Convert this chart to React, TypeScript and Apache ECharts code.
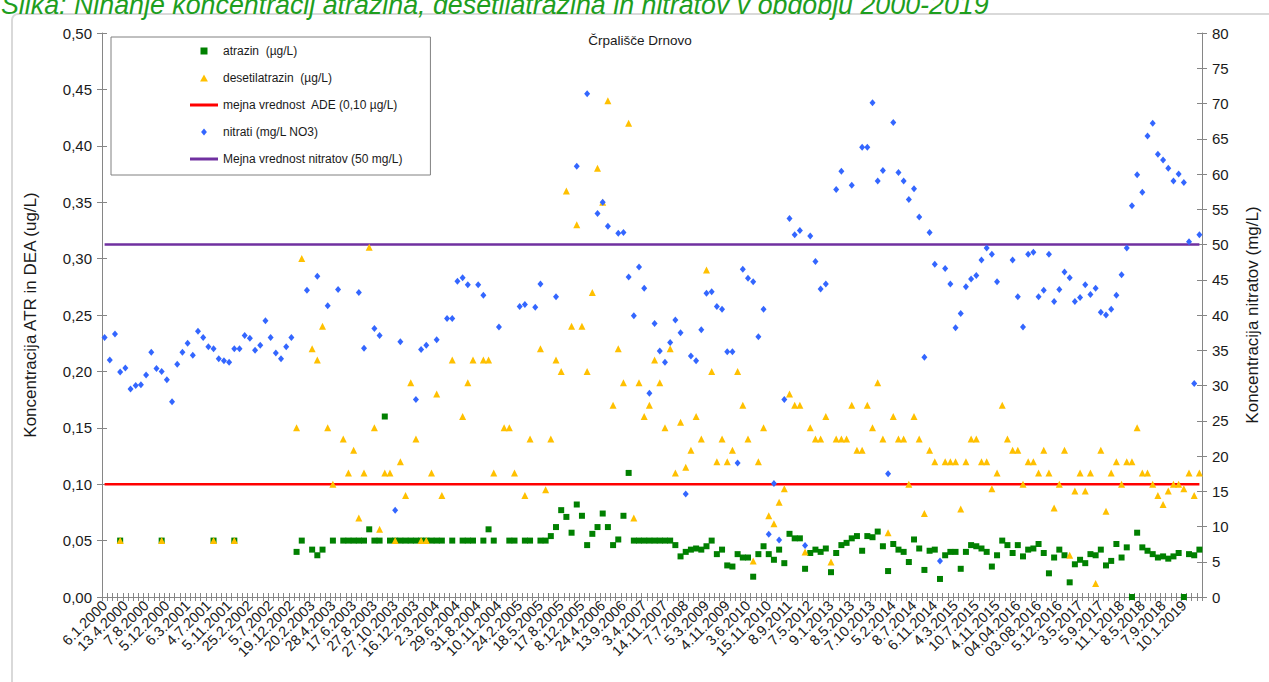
import React, { useEffect, useRef } from 'react';
import * as echarts from 'echarts';

const FONT = '"Liberation Sans", Arial, sans-serif';

// Tick labels shown on the category axis (every 4th sample)
const xLabels = [
  '6.1.2000', '13.4.2000', '7.8.2000', '5.12.2000', '6.3.2001', '4.7.2001', '5.11.2001', '25.2.2002',
  '5.7.2002', '19.12.2002', '20.2.2003', '28.4.2003', '17.6.2003', '27.8.2003', '27.10.2003', '16.12.2003',
  '2.3.2004', '29.6.2004', '31.8.2004', '10.11.2004', '24.2.2005', '18.5.2005', '17.8.2005', '8.12.2005',
  '24.4.2006', '13.9.2006', '3.4.2007', '14.11.2007', '7.7.2008', '5.3.2009', '4.11.2009', '3.6.2010',
  '15.11.2010', '8.9.2011', '7.5.2012', '9.1.2013', '8.5.2013', '7.10.2013', '5.2.2014', '8.7.2014',
  '6.11.2014', '4.3.2015', '10.7.2015', '4.11.2015', '04.04.2016', '03.08.2016', '5.12.2016', '3.5.2017',
  '5.9.2017', '11.1.2018', '8.5.2018', '7.9.2018', '10.1.2019',
];
const LABEL_STEP = 4;
const SAMPLE_COUNT = 212;

// atrazin (µg/L)
const atrazin: (number | null)[] = [
  null, null, null, 0.05, null, null, null, null, null, null,
  null, 0.05, null, null, null, null, null, null, null, null,
  null, 0.05, null, null, null, 0.05, null, null, null, null,
  null, null, null, null, null, null, null, 0.04, 0.05, null,
  0.042, 0.037, 0.042, null, 0.05, null, 0.05, 0.05, 0.05, 0.05,
  0.05, 0.06, 0.05, 0.05, 0.16, 0.05, 0.05, 0.05, 0.05, 0.05,
  0.05, 0.05, 0.05, 0.05, 0.05, 0.05, null, 0.05, null, 0.05,
  0.05, 0.05, null, 0.05, 0.06, 0.05, null, null, 0.05, 0.05,
  null, 0.05, 0.05, null, 0.05, 0.05, 0.054, 0.062, 0.077, 0.071,
  0.057, 0.082, 0.072, 0.046, 0.056, 0.062, 0.074, 0.062, 0.046, 0.051,
  0.072, 0.11, 0.05, 0.05, 0.05, 0.05, 0.05, 0.05, 0.05, 0.05,
  0.046, 0.036, 0.04, 0.042, 0.043, 0.042, 0.045, 0.05, 0.038, 0.042,
  0.028, 0.027, 0.038, 0.035, 0.035, 0.018, 0.038, 0.045, 0.038, 0.033,
  0.042, 0.03, 0.056, 0.052, 0.052, 0.025, 0.039, 0.042, 0.04, 0.043,
  0.022, 0.039, 0.046, 0.048, 0.052, 0.054, 0.041, 0.054, 0.053, 0.058,
  0.045, 0.023, 0.047, 0.042, 0.04, 0.031, 0.051, 0.043, 0.024, 0.041,
  0.042, 0.016, 0.037, 0.04, 0.04, 0.025, 0.04, 0.046, 0.045, 0.043,
  0.04, 0.027, 0.037, 0.05, 0.046, 0.039, 0.046, 0.036, 0.042, 0.043,
  0.047, 0.039, 0.021, 0.035, 0.042, 0.037, 0.013, 0.029, 0.033, 0.03,
  0.038, 0.037, 0.042, 0.028, 0.032, 0.047, 0.035, 0.044, 0, 0.057,
  0.044, 0.041, 0.038, 0.035, 0.036, 0.034, 0.036, 0.039, 0, 0.038,
  0.037, 0.042,
];

// desetilatrazin (µg/L)
const desetilatrazin: (number | null)[] = [
  null, null, null, 0.05, null, null, null, null, null, null,
  null, 0.05, null, null, null, null, null, null, null, null,
  null, 0.05, null, null, null, 0.05, null, null, null, null,
  null, null, null, null, null, null, null, 0.15, 0.3, null,
  0.22, 0.21, 0.24, 0.15, 0.1, null, 0.14, 0.11, 0.13, 0.07,
  0.11, 0.31, 0.15, 0.06, 0.11, 0.11, 0.05, 0.12, 0.09, 0.19,
  0.14, 0.05, 0.05, 0.11, 0.18, 0.09, null, 0.21, null, 0.16,
  0.19, 0.21, null, 0.21, 0.21, 0.11, null, 0.15, 0.15, 0.11,
  null, 0.09, 0.14, null, 0.22, 0.095, 0.14, 0.21, 0.2, 0.36,
  0.24, 0.33, 0.24, 0.2, 0.27, 0.38, 0.35, 0.44, 0.17, 0.22,
  0.19, 0.42, 0.07, 0.19, 0.16, 0.17, 0.21, 0.19, 0.15, 0.22,
  0.11, 0.155, 0.115, 0.13, 0.16, 0.14, 0.29, 0.2, 0.12, 0.14,
  0.12, 0.13, 0.2, 0.17, 0.14, 0.032, 0.12, 0.15, 0.072, 0.065,
  0.084, 0.096, 0.18, 0.17, 0.17, 0.04, 0.15, 0.14, 0.14, 0.16,
  0.031, 0.14, 0.14, 0.14, 0.17, 0.13, 0.13, 0.17, 0.15, 0.19,
  0.14, 0.057, 0.16, 0.14, 0.14, 0.1, 0.16, 0.14, 0.074, 0.13,
  0.12, null, 0.12, 0.12, 0.12, 0.078, 0.12, 0.14, 0.14, 0.12,
  0.12, 0.096, 0.11, 0.17, 0.14, 0.13, 0.13, 0.1, 0.12, 0.12,
  0.11, 0.13, 0.11, 0.079, 0.1, 0.13, 0.037, 0.094, 0.11, 0.094,
  0.11, 0.012, 0.13, 0.076, 0.11, 0.12, 0.1, 0.12, 0.12, 0.15,
  0.11, 0.11, 0.1, 0.09, 0.082, 0.094, 0.1, 0.1, 0.096, 0.11,
  0.09, 0.11,
];

// nitrati (mg/L NO3)
const nitrati: (number | null)[] = [
  36.8, 33.6, 37.3, 31.9, 32.5, 29.5, 30.0, 30.1, 31.5, 34.7,
  32.4, 32.0, 30.8, 27.7, 33.0, 34.7, 36.0, 34.3, 37.7, 36.8,
  35.5, 35.2, 33.8, 33.5, 33.3, 35.2, 35.2, 37.1, 36.7, 35.0,
  35.7, 39.2, 36.8, 34.6, 33.8, 35.5, 36.8, null, null, 43.5,
  null, 45.5, null, 41.3, null, 43.6, null, null, null, 43.2,
  35.3, null, 38.1, 37.1, null, null, 12.3, 36.2, null, null,
  28.0, 35.1, 35.7, null, 36.5, null, 39.5, 39.5, 44.8, 45.3,
  44.3, null, 44.3, 42.8, null, null, 38.3, null, null, null,
  41.2, 41.5, null, 41.1, 44.4, null, null, 42.6, null, null,
  null, 61.1, null, 71.4, null, 54.4, 56.0, 52.6, null, 51.6,
  51.7, 45.4, 39.9, 46.8, 43.8, 28.9, 38.8, 34.9, 33.3, 36.1,
  39.3, 37.5, 14.6, 34.2, 33.5, 37.9, 43.1, 43.3, 41.2, 40.8,
  34.8, 34.8, 19.0, 46.5, 45.2, 44.7, 36.9, 40.8, 8.9, 16.1,
  8.1, 28.0, 53.7, 51.4, 52.0, 7.3, 51.2, 47.6, 43.7, 44.4,
  null, 57.8, 60.4, null, 58.4, null, 63.8, 63.8, 70.1, 59.0,
  60.5, 17.5, 67.3, 60.2, 59.0, 56.4, 57.9, 53.9, 34.0, 51.7,
  47.2, 5.1, 46.6, 44.4, 38.2, 40.2, 44.0, 45.1, 45.6, 47.8,
  49.5, 48.6, 44.7, null, null, 47.8, 42.6, 38.3, 48.6, 48.9,
  42.6, 43.5, 48.6, 41.9, 43.6, 46.1, 45.3, 41.9, 42.5, 44.3,
  42.9, 43.8, 40.4, 40.0, 40.8, 42.8, 45.7, 49.5, 55.5, 59.9,
  57.4, 65.4, 67.2, 62.8, 62.0, 60.8, 59.0, 60.0, 58.8, 50.4,
  30.3, 51.4,
];

const ADE_LIMIT = 0.1;
const NITRATE_LIMIT = 50;

const seriesNames = [
  'atrazin  (µg/L)',
  'desetilatrazin  (µg/L)',
  'mejna vrednost  ADE (0,10 µg/L)',
  'nitrati (mg/L NO3)',
  'Mejna vrednost nitratov (50 mg/L)',
];

const legendIcons = [
  'path://M0,0H10V10H0Z',
  'path://M5,0L10,9L0,9Z',
  'path://M0,0H28V3H0Z',
  'path://M5,0L10,6L5,12L0,6Z',
  'path://M0,0H28V3H0Z',
];

const categories = Array.from({ length: SAMPLE_COUNT }, (_, i) => String(i));

const AXIS_COLOR = '#868686';
const TEXT_COLOR = '#1a1a1a';
const AXIS_FONT = 15;
const X_FONT = 14.5;
const TITLE_FONT = 17;

function buildOption(): any {
  const grid = { left: 102, right: 63, top: 33, bottom: 85 };
  const baseX = {
    type: 'category',
    data: categories,
    boundaryGap: true,
    position: 'bottom',
    splitLine: { show: false },
  };
  const leftY = { type: 'value', min: 0, max: 0.5, interval: 0.05, position: 'left', splitLine: { show: false } };
  const rightY = { type: 'value', min: 0, max: 80, interval: 5, position: 'right', splitLine: { show: false } };

  return {
    animation: false,
    backgroundColor: '#ffffff',
    textStyle: { fontFamily: FONT },
    grid,
    graphic: [
      {
        type: 'rect',
        z: -10,
        shape: { x: 12, y: 14, width: 1275, height: 690, r: 6 },
        style: { fill: 'none', stroke: '#d9d9d9', lineWidth: 2 },
      },
      {
        type: 'text',
        x: 1,
        y: -9,
        style: {
          text: 'Slika: Nihanje koncentracij atrazina, desetilatrazina in nitratov v obdobju 2000-2019',
          fontFamily: FONT,
          fontSize: 26.8,
          fontStyle: 'italic',
          fill: '#1e9e1e',
          verticalAlign: 'top',
        },
      },
      {
        type: 'text',
        x: 640,
        y: 40,
        style: {
          text: 'Črpališče Drnovo',
          fontFamily: FONT,
          fontSize: 13.5,
          fill: TEXT_COLOR,
          align: 'center',
          verticalAlign: 'middle',
        },
      },
    ],
    legend: {
      orient: 'vertical',
      left: 111,
      top: 37,
      padding: [7, 28, 9, 79],
      itemWidth: 28,
      itemHeight: 7,
      itemGap: 13,
      backgroundColor: '#ffffff',
      borderColor: '#808080',
      borderWidth: 1,
      textStyle: { fontFamily: FONT, fontSize: 12, color: TEXT_COLOR, lineHeight: 14 },
      data: seriesNames.map((name, i) => ({ name, icon: legendIcons[i] })),
      selectedMode: false,
    },
    xAxis: [
      {
        ...baseX,
        axisLine: { show: true, lineStyle: { color: AXIS_COLOR, width: 1 } },
        axisTick: { show: true, interval: 0, length: 4, lineStyle: { color: AXIS_COLOR } },
        axisLabel: {
          interval: 0,
          rotate: 45,
          margin: 6,
          fontSize: X_FONT,
          fontFamily: FONT,
          color: TEXT_COLOR,
          hideOverlap: false,
          formatter: (_v: string, idx: number) =>
            idx % LABEL_STEP === 0 && xLabels[idx / LABEL_STEP] ? xLabels[idx / LABEL_STEP] : '',
        },
      },
      {
        ...baseX,
        axisLine: { show: false },
        axisTick: { show: true, inside: true, interval: 0, length: 4, lineStyle: { color: AXIS_COLOR } },
        axisLabel: { show: false },
      },
    ],
    yAxis: [
      {
        ...leftY,
        name: 'Koncentracija ATR in DEA (ug/L)',
        nameLocation: 'middle',
        nameRotate: 90,
        nameGap: 63,
        nameTextStyle: { fontFamily: FONT, fontSize: TITLE_FONT, color: TEXT_COLOR },
        axisLine: { show: true, lineStyle: { color: AXIS_COLOR, width: 1 } },
        axisTick: { show: true, length: 5, lineStyle: { color: AXIS_COLOR } },
        axisLabel: {
          margin: 10,
          fontSize: AXIS_FONT,
          fontFamily: FONT,
          color: TEXT_COLOR,
          formatter: (v: number) => v.toFixed(2).replace('.', ','),
        },
      },
      {
        ...rightY,
        name: 'Koncentracija nitratov (mg/L)',
        nameLocation: 'middle',
        nameRotate: 90,
        nameGap: 42,
        nameTextStyle: { fontFamily: FONT, fontSize: TITLE_FONT, color: TEXT_COLOR },
        axisLine: { show: true, lineStyle: { color: AXIS_COLOR, width: 1 } },
        axisTick: { show: true, length: 5, lineStyle: { color: AXIS_COLOR } },
        axisLabel: { margin: 10, fontSize: AXIS_FONT, fontFamily: FONT, color: TEXT_COLOR },
      },
      {
        ...leftY,
        axisLine: { show: false },
        axisTick: { show: true, inside: true, length: 5, lineStyle: { color: AXIS_COLOR } },
        axisLabel: { show: false },
      },
      {
        ...rightY,
        axisLine: { show: false },
        axisTick: { show: true, inside: true, length: 5, lineStyle: { color: AXIS_COLOR } },
        axisLabel: { show: false },
      },
    ],
    series: [
      {
        name: seriesNames[2],
        type: 'line',
        xAxisIndex: 0,
        yAxisIndex: 0,
        data: categories.map(() => ADE_LIMIT),
        symbol: 'none',
        lineStyle: { color: '#ff0000', width: 2.5 },
        itemStyle: { color: '#ff0000' },
        z: 1,
      },
      {
        name: seriesNames[4],
        type: 'line',
        xAxisIndex: 0,
        yAxisIndex: 1,
        data: categories.map(() => NITRATE_LIMIT),
        symbol: 'none',
        lineStyle: { color: '#7030a0', width: 2.5 },
        itemStyle: { color: '#7030a0' },
        z: 1,
      },
      {
        name: seriesNames[0],
        type: 'scatter',
        xAxisIndex: 0,
        yAxisIndex: 0,
        data: atrazin,
        symbol: 'rect',
        symbolSize: 6,
        itemStyle: { color: '#008000', opacity: 1 },
        z: 2,
      },
      {
        name: seriesNames[1],
        type: 'scatter',
        xAxisIndex: 0,
        yAxisIndex: 0,
        data: desetilatrazin,
        symbol: 'triangle',
        symbolSize: 7,
        itemStyle: { color: '#ffc000', opacity: 1 },
        z: 3,
      },
      {
        name: seriesNames[3],
        type: 'scatter',
        xAxisIndex: 0,
        yAxisIndex: 1,
        data: nitrati,
        symbol: 'diamond',
        symbolSize: [6, 7],
        itemStyle: { color: '#3366ff', opacity: 1 },
        z: 4,
      },
    ],
  };
}

export default function App() {
  const ref = useRef<HTMLDivElement>(null);
  useEffect(() => {
    if (!ref.current) return;
    const chart = echarts.init(ref.current, null, { renderer: 'svg' });
    chart.setOption(buildOption());
    return () => {
      chart.dispose();
    };
  }, []);
  return (
    <div
      ref={ref}
      style={{ position: 'absolute', left: 0, top: 0, width: 1269, height: 682, background: '#ffffff' }}
    />
  );
}
